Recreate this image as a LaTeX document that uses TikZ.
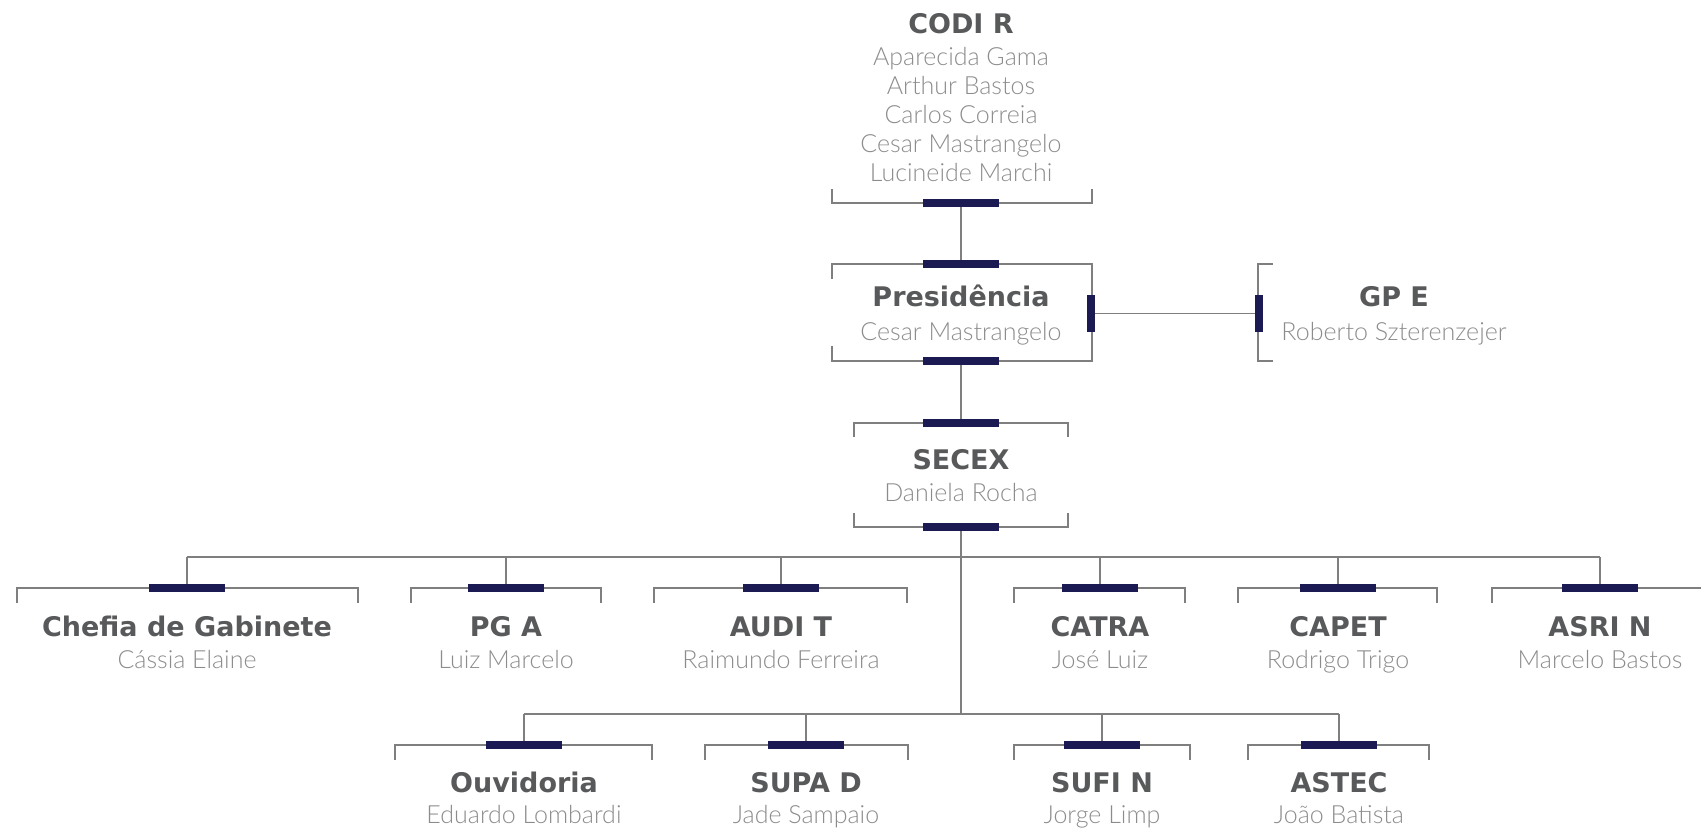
\documentclass[tikz,border=0pt]{standalone}
\usepackage{fontspec}
\setmainfont{Lato}
\newfontfamily\lightfont{Lato Light}
\newfontfamily\headfont{DejaVu Sans}
\usetikzlibrary{positioning}
\definecolor{barnavy}{HTML}{1B1A52}
\definecolor{wiregray}{HTML}{7F7F7F}
\definecolor{titlegray}{HTML}{58595B}
\definecolor{namegray}{HTML}{8C8C8C}

\begin{document}
\begin{tikzpicture}[x=1pt, y=-1pt,
  wire/.style={draw=wiregray, line width=1.3pt},
  hbar/.style={fill=barnavy, inner sep=0pt, minimum width=76pt, minimum height=8pt},
  vbar/.style={fill=barnavy, inner sep=0pt, minimum width=8pt, minimum height=37pt},
  title/.style={anchor=base, inner sep=0pt, text=titlegray,
                font=\headfont\bfseries\fontsize{27}{30}\selectfont},
  person/.style={anchor=base, inner sep=0pt, text=namegray,
                 font=\lightfont\fontsize{25}{30}\selectfont}
]
\useasboundingbox (0,0) rectangle (1701,831);

%% Board
\node[title] (codir) at (961,33) {CODI R};
\foreach \who [count=\i] in {Aparecida Gama, Arthur Bastos, Carlos Correia,
                             Cesar Mastrangelo, Lucineide Marchi}
  \node[person] (codir-\i) at (961,{35.8+29.2*\i}) {\who};
\draw[wire] (832,189) |- (1092,203) -- (1092,189);
\node[hbar] (codir-b) at (961,203) {};

%% Presidency
\draw[wire] (832,279) |- (1092,264) -- (1092,361) -| (832,346);
\node[hbar] (pres-t) at (961,264) {};
\node[hbar] (pres-b) at (961,361) {};
\node[vbar] (pres-r) at (1091,313.5) {};
\node[title] (pres) at (961,306) {Presidência};
\node[person] (pres-n) at (961,340) {Cesar Mastrangelo};

%% GPE beside the presidency
\draw[wire] (1273,264) -| (1258,361) -- (1273,361);
\node[vbar] (gpe-l) at (1259,313.5) {};
\node[title] (gpe) at (1394,306) {GP E};
\node[person] (gpe-n) at (1394,340) {Roberto Szterenzejer};

%% Executive secretariat
\draw[wire] (854,437) |- (1068,423) -- (1068,437);
\draw[wire] (854,513) |- (1068,527) -- (1068,513);
\node[hbar] (secex-t) at (961,423) {};
\node[hbar] (secex-b) at (961,527) {};
\node[title] (secex) at (961,469) {SECEX};
\node[person] (secex-n) at (961,501) {Daniela Rocha};

%% Spine
\draw[wire] (codir-b) -- (pres-t);
\draw[wire] (pres-r) -- (gpe-l);
\draw[wire] (pres-b) -- (secex-t);
\coordinate (upbus) at (961,557);
\coordinate (lowbus) at (961,714);
\draw[wire] (secex-b) -- (lowbus);

%% Row 1
\foreach \id/\cx/\l/\r/\ttl/\who in {
    chefia/187/17/358/Chefia de Gabinete/Cássia Elaine,
    pga/506/411/601/PG A/Luiz Marcelo,
    audit/781/654/907/AUDI T/Raimundo Ferreira,
    catra/1100/1014/1185/CATRA/José Luiz,
    capet/1338/1238/1437/CAPET/Rodrigo Trigo,
    asrin/1600/1492/1712/ASRI N/Marcelo Bastos}{
  \draw[wire] (\l,603) |- (\r,588) -- (\r,603);
  \node[hbar] (\id-t) at (\cx,588) {};
  \node[title] (\id) at (\cx,636) {\ttl};
  \node[person] (\id-n) at (\cx,668) {\who};
  \draw[wire] (\id-t) -- (\id-t |- upbus);
}
\draw[wire] (chefia-t |- upbus) -- (asrin-t |- upbus);

%% Row 2
\foreach \id/\cx/\l/\r/\ttl/\who in {
    ouvid/524/395/652/Ouvidoria/Eduardo Lombardi,
    supad/806/705/908/SUPA D/Jade Sampaio,
    sufin/1102/1014/1190/SUFI N/Jorge Limp,
    astec/1339/1248/1429/ASTEC/João Batista}{
  \draw[wire] (\l,760) |- (\r,745) -- (\r,760);
  \node[hbar] (\id-t) at (\cx,745) {};
  \node[title] (\id) at (\cx,792) {\ttl};
  \node[person] (\id-n) at (\cx,823) {\who};
  \draw[wire] (\id-t) -- (\id-t |- lowbus);
}
\draw[wire] (ouvid-t |- lowbus) -- (astec-t |- lowbus);

\end{tikzpicture}
\end{document}
